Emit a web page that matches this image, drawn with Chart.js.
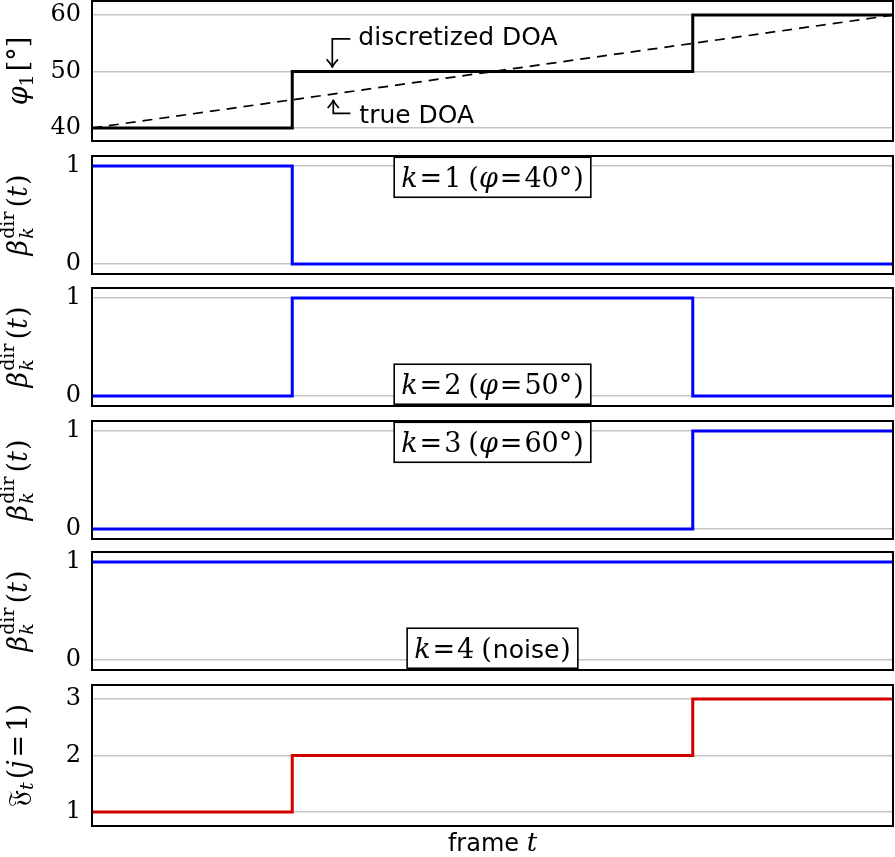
<!DOCTYPE html>
<html><head><meta charset="utf-8">
<script src="https://cdn.jsdelivr.net/npm/chart.js@4/dist/chart.umd.min.js"></script>
<style>
html,body{margin:0;padding:0;background:#fff;}
#wrap{position:relative;width:895px;height:857px;overflow:hidden;background:#fff;}
canvas{position:absolute;left:0;}
</style></head><body><div id="wrap"></div>
<script>
// ---- data (breakpoints along the frame axis) ----
const frameT = [0, 1, 3, 4];
const doaDiscretized = [40, 50, 60, 60];
const doaTrueFrames = [0, 4];
const doaTrue = [40, 60];
const betaK1 = [1, 0, 0, 0];
const betaK2 = [0, 1, 0, 0];
const betaK3 = [0, 0, 1, 1];
const betaK4 = [1, 1, 1, 1];
const fIndex = [1, 2, 3, 3];
const phiTicks = [40, 50, 60];
const betaTicks = [0, 1];
const fTicks = [1, 2, 3];
const boxTexts = ['1', '2', '3', '4'];
const boxAngles = ['40°', '50°', '60°', 'noise'];

const SERIF = '"DejaVu Serif","Liberation Serif",serif';
const SANS = '"DejaVu Sans",sans-serif';
const F = (sz, it, fam) => (it ? 'italic ' : '') + sz + 'px ' + (fam || SERIF);

function pts(xs, ys){ return xs.map((x,i)=>({x:x, y:ys[i]})); }

function segW(ctx, s){
  if (s.stack){ return Math.max(...s.stack.map(p=>{ctx.font=p.f; return ctx.measureText(p.t).width;})) + (s.pre||0) + (s.post||0); }
  ctx.font = s.f; return ctx.measureText(s.t).width + (s.pre||0) + (s.post||0);
}
function richW(ctx, segs){ return segs.reduce((a,s)=>a+segW(ctx,s),0); }
function drawSegs(ctx, segs, x, y){
  for (const s of segs){
    const w = segW(ctx, s);
    if (s.stack){ for (const p of s.stack){ ctx.font=p.f; ctx.fillText(p.t, x+(s.pre||0), y+(p.dy||0)); } }
    else { ctx.font=s.f; ctx.fillText(s.t, x+(s.pre||0), y+(s.dy||0)); }
    x += w;
  }
}
function drawRotated(ctx, segs, cx, cy, asc){
  const w = richW(ctx, segs);
  ctx.save(); ctx.translate(cx, cy); ctx.rotate(-Math.PI/2);
  ctx.fillStyle='#000'; ctx.textBaseline='alphabetic'; ctx.textAlign='left';
  drawSegs(ctx, segs, -w/2, asc);
  ctx.restore();
}

const betaTitle = [
  {t:'β', f:F(27,true)},
  {stack:[{t:'dir', f:F(19,false), dy:-13},{t:'k', f:F(19,true), dy:6}], pre:1},
  {t:'(', f:F(27,false), pre:4},{t:'t', f:F(27,true)},{t:')', f:F(27,false), pre:1}
];
const phiTitle = [
  {t:'φ', f:F(27,true)},{t:'1', f:F(19,false), dy:6},{t:'[°]', f:F(27,false), pre:3}
];
const fTitle = [
  {t:'𝔉', f:F(27,false)},{t:'t', f:F(19,true), dy:6},{t:'(', f:F(27,false), pre:3},
  {t:'j', f:F(27,true)},{t:'=', f:F(27,false), pre:3, post:3},{t:'1', f:F(27,false)},{t:')', f:F(27,false)}
];
function boxSegs(i){
  const segs = [{t:'k', f:F(27,true)},{t:'=', f:F(27,false), pre:2, post:2},{t:boxTexts[i], f:F(27,false)},{t:'(', f:F(27,false), pre:7}];
  if (boxAngles[i] === 'noise') segs.push({t:'noise', f:F(25,false,SANS), pre:1});
  else segs.push({t:'φ', f:F(27,true)},{t:'=', f:F(27,false), pre:2, post:2},{t:boxAngles[i], f:F(27,false)});
  segs.push({t:')', f:F(27,false), pre:1});
  return segs;
}

function arrow(ctx, pts2){
  ctx.beginPath(); ctx.moveTo(pts2[0][0], pts2[0][1]);
  for (let i=1;i<pts2.length;i++) ctx.lineTo(pts2[i][0], pts2[i][1]);
  ctx.stroke();
  const [x1,y1]=pts2[pts2.length-2], [x2,y2]=pts2[pts2.length-1];
  const a = Math.atan2(y2-y1, x2-x1), L=10;
  ctx.beginPath();
  ctx.moveTo(x2 - L*Math.cos(a-0.6), y2 - L*Math.sin(a-0.6));
  ctx.quadraticCurveTo(x2 - 2*Math.cos(a), y2 - 2*Math.sin(a), x2, y2);
  ctx.quadraticCurveTo(x2 - 2*Math.cos(a), y2 - 2*Math.sin(a), x2 - L*Math.cos(a+0.6), y2 - L*Math.sin(a+0.6));
  ctx.stroke();
}

const deco = {
  id:'deco',
  afterDatasetsDraw(chart, args, o){
    const ctx = chart.ctx, a = chart.chartArea, xs = chart.scales.x, ys = chart.scales.y;
    ctx.save();
    ctx.strokeStyle='#000'; ctx.lineWidth=2;
    ctx.strokeRect(a.left, a.top, a.right-a.left, a.bottom-a.top);
    if (o.box !== undefined){
      const segs = boxSegs(o.box.i);
      const w = richW(ctx, segs);
      const cx = xs.getPixelForValue(o.box.x), cy = ys.getPixelForValue(o.box.y);
      const bw = w + 14, bh = 40;
      ctx.fillStyle='#fff'; ctx.fillRect(cx-bw/2, cy-bh/2, bw, bh);
      ctx.lineWidth=1.6; ctx.strokeRect(cx-bw/2, cy-bh/2, bw, bh);
      ctx.fillStyle='#000'; ctx.textBaseline='alphabetic'; ctx.textAlign='left';
      drawSegs(ctx, segs, cx-w/2, cy+10);
    }
    if (o.doa){
      ctx.lineWidth=1.7; ctx.strokeStyle='#000';
      const X = v=>xs.getPixelForValue(v), Y = v=>ys.getPixelForValue(v);
      arrow(ctx, [[X(1.29),Y(55.8)],[X(1.2),Y(55.8)],[X(1.2),Y(50.7)]]);
      arrow(ctx, [[X(1.29),Y(42.6)],[X(1.205),Y(42.6)],[X(1.205),Y(45.0)]]);
      ctx.fillStyle='#000'; ctx.textBaseline='middle'; ctx.textAlign='left';
      ctx.font = F(25,false,SANS);
      ctx.fillText('discretized DOA', X(1.33), Y(55.9));
      ctx.fillText('true DOA', X(1.335), Y(42.0));
    }
    ctx.fillStyle='#000';
    drawRotated(ctx, o.title, 18, (a.top+a.bottom)/2, 9);
    if (o.xlabel){
      const segs=[{t:'frame ', f:F(24,false,SANS)},{t:'t', f:F(26,true)}];
      const w=richW(ctx,segs); ctx.textBaseline='alphabetic'; ctx.textAlign='left';
      drawSegs(ctx, segs, (a.left+a.right)/2 - w/2, 851 - chart.canvas.offsetTop);
    }
    ctx.restore();
  }
};

const panels = [
  {top:1, bottom:141, min:37.7, max:62.5, ticks:phiTicks, title:phiTitle, doa:true,
   ds:[{data:pts(frameT, doaDiscretized), color:'#000', w:3, stepped:true},
       {data:pts(doaTrueFrames, doaTrue), color:'#000', w:1.7, dash:[10,7]}]},
  {top:156, bottom:274, min:-0.102, max:1.102, ticks:betaTicks, title:betaTitle, box:{i:0,x:2,y:0.885},
   ds:[{data:pts(frameT, betaK1), color:'#0000ff', w:3, stepped:true}]},
  {top:288, bottom:406, min:-0.102, max:1.102, ticks:betaTicks, title:betaTitle, box:{i:1,x:2,y:0.12},
   ds:[{data:pts(frameT, betaK2), color:'#0000ff', w:3, stepped:true}]},
  {top:421, bottom:539, min:-0.102, max:1.102, ticks:betaTicks, title:betaTitle, box:{i:2,x:2,y:0.885},
   ds:[{data:pts(frameT, betaK3), color:'#0000ff', w:3, stepped:true}]},
  {top:552, bottom:670, min:-0.102, max:1.102, ticks:betaTicks, title:betaTitle, box:{i:3,x:2,y:0.12},
   ds:[{data:pts(frameT, betaK4), color:'#0000ff', w:3, stepped:true}]},
  {top:685, bottom:826, min:0.75, max:3.25, ticks:fTicks, title:fTitle, xlabel:true,
   ds:[{data:pts(frameT, fIndex), color:'#d40000', w:3, stepped:true}]}
];

const wrap = document.getElementById('wrap');
panels.forEach((p, idx)=>{
  const c = document.createElement('canvas');
  const ctop = Math.max(0, p.top - 4);
  const cbottom = p.xlabel ? 857 : p.bottom + 4;
  c.width = 895; c.height = cbottom - ctop;
  c.style.top = ctop + 'px'; c.style.width='895px'; c.style.height = (cbottom-ctop)+'px';
  wrap.appendChild(c);
  new Chart(c, {
    type:'line',
    data:{datasets: p.ds.map(d=>({data:d.data, borderColor:d.color, borderWidth:d.w, borderDash:d.dash||[],
      stepped:d.stepped||false, pointRadius:0, fill:false, tension:0, borderCapStyle:'butt', borderJoinStyle:'miter'}))},
    options:{
      responsive:false, maintainAspectRatio:false, animation:false, devicePixelRatio:1,
      layout:{padding:{top:p.top - ctop, bottom:cbottom - p.bottom, left:0, right:2}},
      plugins:{legend:{display:false}, tooltip:{enabled:false},
        deco:{title:p.title, box:p.box, doa:p.doa, xlabel:p.xlabel}},
      scales:{
        x:{type:'linear', min:0, max:4, display:false},
        y:{type:'linear', min:p.min, max:p.max,
           afterBuildTicks: s=>{ s.ticks = p.ticks.map(v=>({value:v})); },
           afterFit: s=>{ s.width = 92; s.paddingTop = 0; s.paddingBottom = 0; },
           grid:{color:'#c4c4c4', lineWidth:1.5, drawTicks:false},
           border:{display:false},
           ticks:{autoSkip:false, color:'#000', padding:11, font:{family:'DejaVu Serif', size:24}, callback:v=>String(v)}}
      }
    },
    plugins:[deco]
  });
});
</script></body></html>
